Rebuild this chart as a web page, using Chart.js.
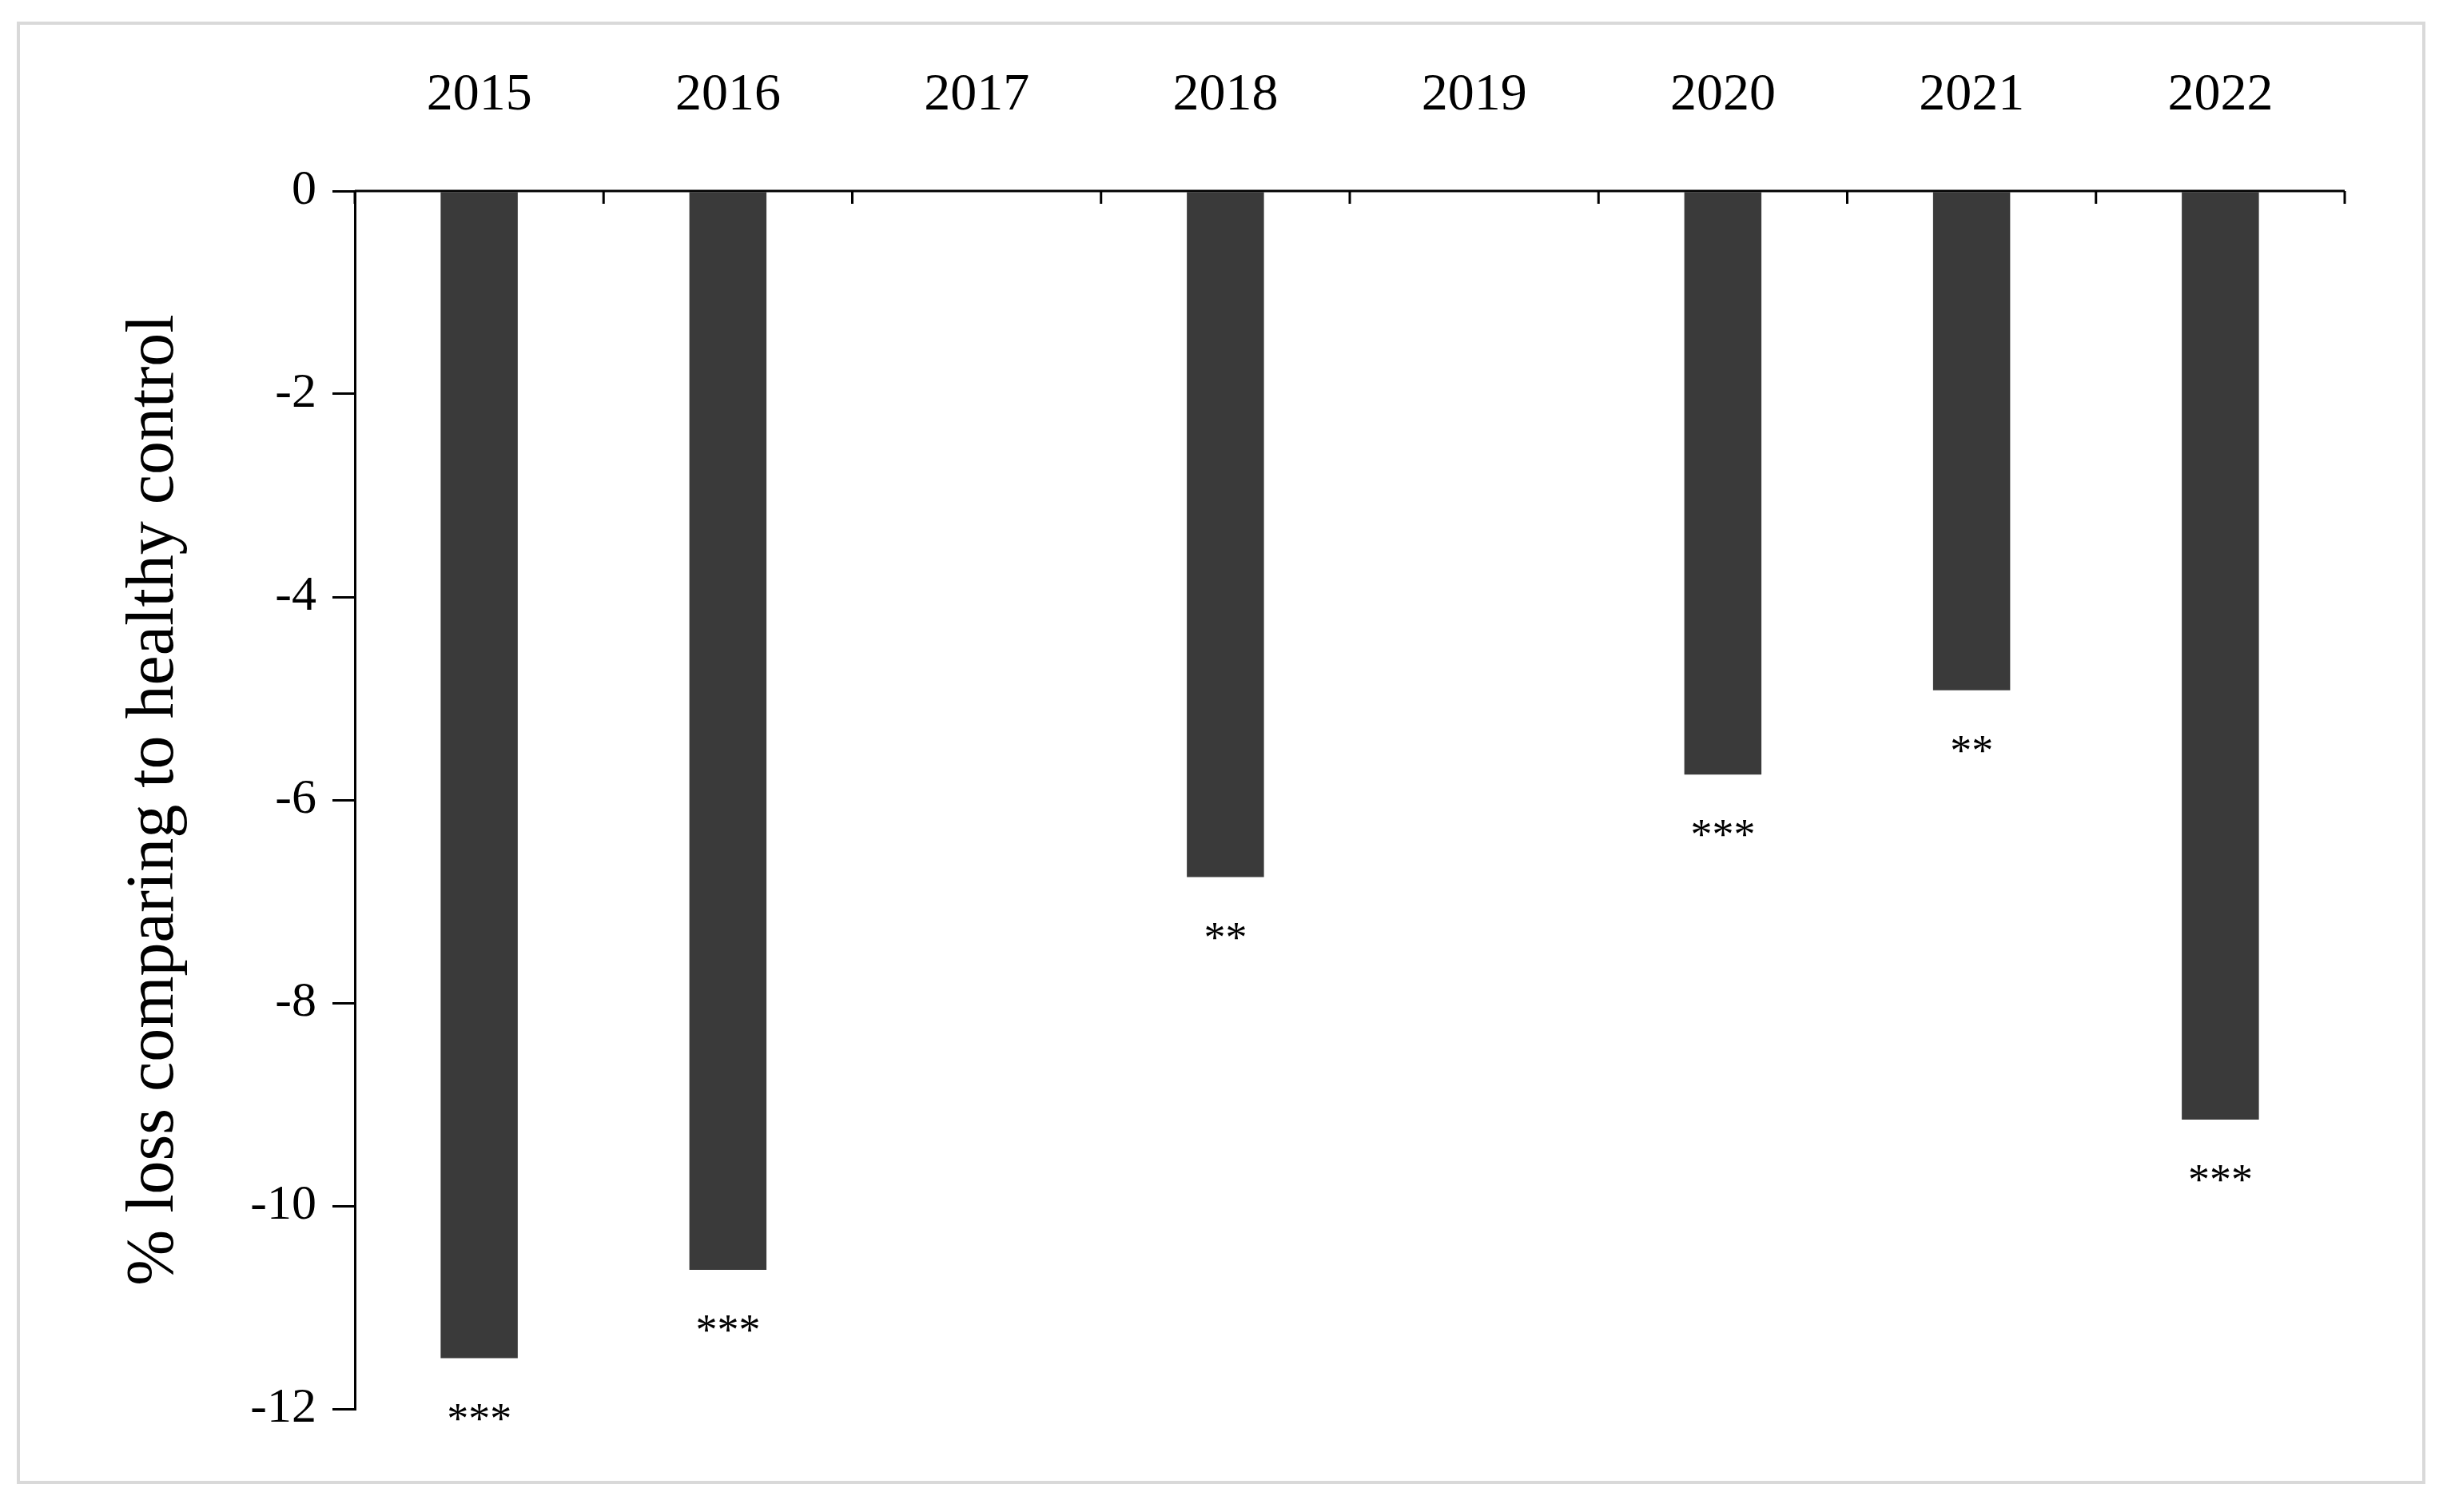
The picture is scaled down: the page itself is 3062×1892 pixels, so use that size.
<!DOCTYPE html>
<html><head><meta charset="utf-8">
<script src="https://cdn.jsdelivr.net/npm/chart.js@4"></script>
<style>html,body{margin:0;padding:0;background:#fff}#wrap{width:3062px;height:1892px}</style>
</head><body><div id="wrap"><canvas id="c"></canvas></div>
<script>
const categories = ["2015","2016","2017","2018","2019","2020","2021","2022"];
const lossValues = [-11.5, -10.63, null, -6.76, null, -5.75, -4.92, -9.15];
const significance = ["***","***","","**","","***","**","***"];
const yTicks = [0,-2,-4,-6,-8,-10,-12];

const FONT = "'Liberation Serif', 'DejaVu Serif', serif";

const deco = {
  id:'deco',
  beforeDraw(chart){
    const ctx=chart.ctx;
    ctx.save();ctx.fillStyle='#fff';ctx.fillRect(0,0,chart.width,chart.height);
    ctx.strokeStyle='#d9d9d9';ctx.lineWidth=4;ctx.strokeRect(23,29,3010,1826);ctx.restore();
  },
  afterDraw(chart){
    const ctx=chart.ctx, xs=chart.scales.x, ys=chart.scales.y;
    const y0=ys.getPixelForValue(0);
    ctx.save();ctx.strokeStyle='#000';ctx.lineWidth=3;
    for(let i=0;i<=categories.length;i++){
      const x=i<categories.length? xs.getPixelForValue(i)-(xs.getPixelForValue(1)-xs.getPixelForValue(0))/2 : xs.right;
      ctx.beginPath();ctx.moveTo(x,y0);ctx.lineTo(x,y0+16);ctx.stroke();
    }
    ctx.beginPath();ctx.moveTo(xs.left,y0);ctx.lineTo(xs.right,y0);ctx.stroke();
    ctx.fillStyle='#000';ctx.font="54px "+FONT;ctx.textAlign='center';ctx.textBaseline='top';
    const meta=chart.getDatasetMeta(0);
    meta.data.forEach((bar,i)=>{
      if(!significance[i]||lossValues[i]==null)return;
      ctx.fillText(significance[i],bar.x,bar.y+52);
    });
    ctx.restore();
  }
};

new Chart(document.getElementById('c'),{
  type:'bar',
  data:{labels:categories,datasets:[{data:lossValues,backgroundColor:'#3a3a3a',borderWidth:0,categoryPercentage:1,barPercentage:0.31}]},
  options:{
    responsive:true,maintainAspectRatio:false,animation:false,
    layout:{padding:{left:140,right:128,top:60,bottom:129}},
    plugins:{legend:{display:false},tooltip:{enabled:false}},
    scales:{
      x:{position:'top',grid:{display:false,drawTicks:false},border:{display:false},
        ticks:{color:'#000',font:{family:FONT,size:66},padding:80},
        afterFit(s){s.height=179;}},
      y:{min:-12,max:0,
        afterBuildTicks(s){s.ticks=yTicks.map(v=>({value:v}));},
        grid:{drawOnChartArea:false,drawTicks:true,tickLength:28,color:'#000',lineWidth:3},
        border:{display:true,color:'#000',width:3},
        ticks:{color:'#000',font:{family:FONT,size:62},padding:20},
        title:{display:true,text:'% loss comparing to healthy control',color:'#000',font:{family:FONT,size:84},padding:{bottom:10}},
        afterFit(s){s.width=304;}}
    }
  },
  plugins:[deco]
});
</script></body></html>
